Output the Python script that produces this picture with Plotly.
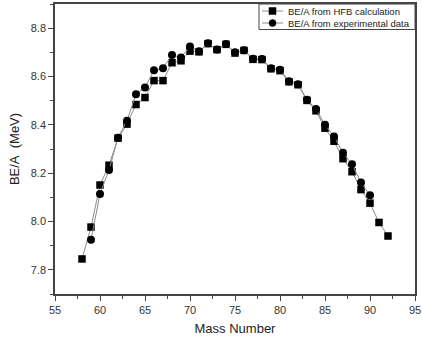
import plotly.graph_objects as go

mass_hfb = [58, 59, 60, 61, 62, 63, 64, 65, 66, 67, 68, 69, 70, 71, 72, 73, 74, 75,
            76, 77, 78, 79, 80, 81, 82, 83, 84, 85, 86, 87, 88, 89, 90, 91, 92]
be_hfb = [7.845, 7.977, 8.151, 8.233, 8.345, 8.403, 8.484, 8.513, 8.583, 8.583,
          8.657, 8.665, 8.705, 8.702, 8.736, 8.711, 8.733, 8.697, 8.708, 8.671,
          8.670, 8.632, 8.624, 8.578, 8.566, 8.501, 8.458, 8.386, 8.332, 8.260,
          8.206, 8.132, 8.076, 7.996, 7.940]

mass_exp = [59, 60, 61, 62, 63, 64, 65, 66, 67, 68, 69, 70, 71, 72, 73, 74, 75,
            76, 77, 78, 79, 80, 81, 82, 83, 84, 85, 86, 87, 88, 89, 90]
be_exp = [7.924, 8.114, 8.213, 8.347, 8.417, 8.527, 8.555, 8.626, 8.634, 8.689,
          8.679, 8.724, 8.704, 8.738, 8.712, 8.734, 8.700, 8.709, 8.673, 8.672,
          8.634, 8.628, 8.580, 8.568, 8.504, 8.466, 8.400, 8.352, 8.284, 8.237,
          8.161, 8.109]

legend_labels = ["BE/A from HFB calculation", "BE/A from experimental data"]

font = "Liberation Sans, Arial, sans-serif"
LINE_C = "#8c8c8c"

fig = go.Figure()
fig.add_trace(go.Scatter(
    x=mass_hfb, y=be_hfb, mode="lines+markers", name=legend_labels[0],
    line=dict(color=LINE_C, width=1),
    marker=dict(symbol="square", size=7.5, color="black"),
    showlegend=False,
))
fig.add_trace(go.Scatter(
    x=mass_exp, y=be_exp, mode="lines+markers", name=legend_labels[1],
    line=dict(color=LINE_C, width=1),
    marker=dict(symbol="circle", size=8, color="black"),
    showlegend=False,
))

axis_common = dict(
    showline=True, linecolor="#444", linewidth=1.5, mirror=True,
    ticks="outside", ticklen=5, tickwidth=1, tickcolor="#444",
    showgrid=False, zeroline=False, automargin=False,
    tickfont=dict(family=font, size=11, color="#333"),
)

fig.update_xaxes(
    range=[55, 95], dtick=5, tick0=55,
    minor=dict(ticks="outside", ticklen=3, dtick=2.5, tick0=55, tickcolor="#444"),
    title=dict(text="Mass Number", font=dict(family=font, size=13, color="#222"), standoff=9),
    **axis_common,
)
fig.update_yaxes(
    range=[7.7, 8.9], dtick=0.2, tick0=7.8, tickformat=".1f",
    minor=dict(ticks="outside", ticklen=3, dtick=0.1, tick0=7.7, tickcolor="#444"),
    title=dict(text="BE/A\u00a0 (MeV)", font=dict(family=font, size=13, color="#222"), standoff=8),
    **axis_common,
)

# Plot area geometry in pixels (for the hand-drawn legend box)
W, H = 422, 343
ML, MR, MT, MB = 55, 7, 4, 49
PW, PH = W - ML - MR, H - MT - MB


def px_x(p):
    return (p - ML) / PW


def px_y(p):
    return (H - MB - p) / PH


shapes = [
    dict(type="rect", xref="paper", yref="paper",
         x0=px_x(259), x1=px_x(415), y0=px_y(29.5), y1=px_y(4),
         line=dict(color="#444", width=1), fillcolor="white", layer="above"),
]
annotations = []
rows = [11, 23]
for i, (yy, lab) in enumerate(zip(rows, legend_labels)):
    shapes.append(dict(type="line", xref="paper", yref="paper",
                       x0=px_x(262), x1=px_x(283), y0=px_y(yy), y1=px_y(yy),
                       line=dict(color=LINE_C, width=1), layer="above"))
    r = 3.5
    shapes.append(dict(type="rect" if i == 0 else "circle", xref="paper", yref="paper",
                       x0=px_x(272.5 - r), x1=px_x(272.5 + r),
                       y0=px_y(yy + r), y1=px_y(yy - r),
                       line=dict(color="black", width=0.5), fillcolor="black", layer="above"))
    annotations.append(dict(xref="paper", yref="paper", x=px_x(286), y=px_y(yy),
                            xanchor="left", yanchor="middle", showarrow=False,
                            text=lab, font=dict(family=font, size=9.5, color="#222")))

fig.update_layout(
    width=W, height=H,
    margin=dict(l=ML, r=MR, t=MT, b=MB),
    plot_bgcolor="white", paper_bgcolor="white",
    showlegend=False,
    shapes=shapes, annotations=annotations,
)

fig.write_html("out.html", config={"displayModeBar": False},
               post_script="document.body.style.margin='0';document.body.style.overflow='hidden';")
